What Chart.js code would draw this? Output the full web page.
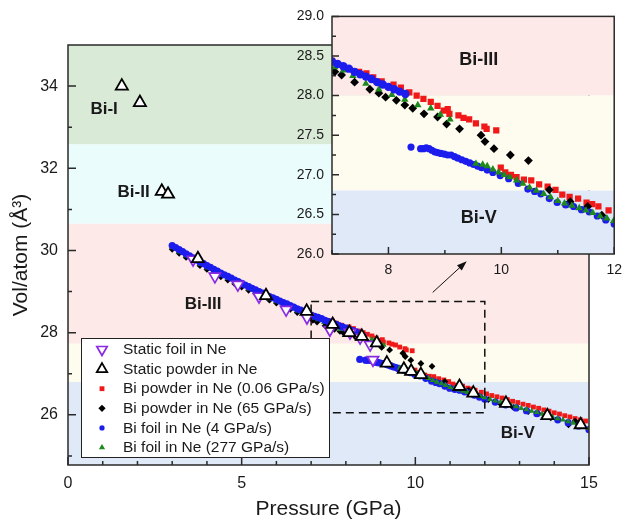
<!DOCTYPE html>
<html>
<head>
<meta charset="utf-8">
<script src="https://cdn.jsdelivr.net/npm/chart.js@4.4.1/dist/chart.umd.min.js"></script>
<style>
  html, body { margin: 0; padding: 0; background: #fff; }
  #wrap { position: relative; width: 630px; height: 522px; }
  #wrap canvas { position: absolute; left: 0; top: 0; }
</style>
</head>
<body>
<div id="wrap">
  <canvas id="mainChart" width="630" height="522"></canvas>
  <canvas id="insetChart" width="630" height="522"></canvas>
</div>
<script>
// ---- data (pressure in GPa, volume per atom in A^3) ----
const staticFoilP = [3.60, 4.23, 4.89, 5.50, 6.28, 6.88, 7.54, 8.12, 8.41, 8.70, 8.78];
const staticFoilV = [29.78, 29.37, 29.17, 28.88, 28.56, 28.37, 28.07, 28.00, 27.88, 27.71, 27.34];

const staticPowderP = [1.55, 2.07, 2.70, 2.88, 3.74, 5.70, 6.87, 7.62, 8.10, 8.46, 8.89, 9.18, 9.67, 9.88, 10.16, 11.27, 11.67, 12.61, 13.80, 14.76];
const staticPowderV = [34.00, 33.60, 31.44, 31.37, 29.80, 28.90, 28.52, 28.20, 28.00, 27.91, 27.75, 27.26, 27.11, 27.06, 26.98, 26.69, 26.53, 26.28, 25.98, 25.76];

const powderSlowP = [3.0, 3.2, 3.4, 3.6, 3.8, 4.0, 4.2, 4.4, 4.6, 4.8, 5.0, 5.2, 5.4, 5.6, 5.8, 6.0, 6.2, 6.4, 6.6, 6.8, 7.0,
  7.25, 7.48, 7.61, 7.73, 7.88, 8.09, 8.22, 8.37, 8.50, 8.62, 8.75, 8.87, 8.98, 9.05, 9.08, 9.24, 9.33, 9.43, 9.55, 9.70, 9.74, 9.91,
  9.99, 10.07, 10.17, 10.27, 10.40, 10.53, 10.67, 10.82, 10.96, 11.08, 11.21, 11.36, 11.51, 11.61, 11.72, 11.90,
  12.05, 12.2, 12.35, 12.5, 12.65, 12.8, 12.95, 13.1, 13.25, 13.4, 13.55, 13.7, 13.85, 14.0, 14.15, 14.3, 14.45, 14.6, 14.75, 14.9];
const powderSlowV = [30.10, 30.00, 29.90, 29.79, 29.69, 29.60, 29.51, 29.42, 29.34, 29.26, 29.18, 29.10, 29.02, 28.95, 28.87, 28.80, 28.72, 28.65, 28.58, 28.51, 28.44,
  28.34, 28.30, 28.28, 28.23, 28.18, 28.14, 28.10, 28.04, 28.00, 27.96, 27.92, 27.87, 27.81, 27.83, 27.77, 27.75, 27.72, 27.70, 27.65, 27.61, 27.58, 27.56,
  27.09, 27.03, 27.00, 26.97, 26.94, 26.93, 26.88, 26.85, 26.81, 26.75, 26.72, 26.70, 26.65, 26.63, 26.60, 26.55,
  26.51, 26.47, 26.44, 26.41, 26.37, 26.33, 26.30, 26.26, 26.23, 26.19, 26.16, 26.12, 26.09, 26.05, 26.02, 25.98, 25.95, 25.91, 25.88, 25.85];

const powderFastP = [3.0, 3.2, 3.4, 3.6, 3.8, 4.0, 4.2, 4.4, 4.6, 4.8, 5.0, 5.2, 5.4, 5.6, 5.8, 6.0, 6.2, 6.4, 6.6, 6.8,
  7.05, 7.17, 7.40, 7.67, 7.83, 7.95, 8.14, 8.29, 8.43, 8.63, 8.87, 9.03, 9.26, 9.64, 9.71, 9.87, 10.16, 10.48,
  10.85, 11.22, 11.53, 11.78, 12.10, 12.45, 12.82, 13.25, 13.54, 13.90, 14.41, 14.60];
const powderFastV = [30.03, 29.93, 29.83, 29.73, 29.63, 29.54, 29.45, 29.36, 29.28, 29.19, 29.11, 29.03, 28.95, 28.87, 28.79, 28.72, 28.64, 28.57, 28.49, 28.42,
  28.30, 28.26, 28.17, 28.08, 28.03, 27.98, 27.94, 27.88, 27.84, 27.77, 27.73, 27.64, 27.58, 27.50, 27.42, 27.33, 27.25, 27.18,
  26.81, 26.66, 26.60, 26.49, 26.37, 26.27, 26.18, 26.08, 26.03, 25.93, 25.76, 25.85];

// 4 GPa/s foil: Bi-III branch and Bi-V branch
const foilSlowP3 = [3.0, 3.1, 3.2, 3.3, 3.4, 3.5, 3.6, 3.7, 3.8, 3.9, 4.0, 4.1, 4.2, 4.3, 4.4, 4.5, 4.6, 4.7, 4.8, 4.9,
  5.0, 5.1, 5.2, 5.3, 5.4, 5.5, 5.6, 5.7, 5.8, 5.9, 6.0, 6.1, 6.2, 6.3, 6.4, 6.5, 6.6, 6.7, 6.8, 6.9,
  7.0, 7.1, 7.2, 7.3, 7.4, 7.5, 7.6, 7.7, 7.8, 7.9, 8.0, 8.1, 8.2, 8.3];
const foilSlowV3 = [30.12, 30.07, 30.02, 29.97, 29.92, 29.87, 29.82, 29.77, 29.72, 29.68, 29.63, 29.59, 29.54, 29.50, 29.45, 29.41, 29.37, 29.33, 29.28, 29.24,
  29.20, 29.16, 29.12, 29.08, 29.04, 29.00, 28.96, 28.92, 28.88, 28.85, 28.81, 28.77, 28.73, 28.70, 28.66, 28.62, 28.58, 28.55, 28.51, 28.47,
  28.43, 28.40, 28.37, 28.34, 28.30, 28.27, 28.24, 28.21, 28.17, 28.14, 28.11, 28.08, 28.05, 28.02];
const foilSlowP5 = [8.40, 8.57, 8.62, 8.67, 8.72, 8.77, 8.82, 8.87, 8.93, 8.99, 9.05, 9.11, 9.17, 9.23, 9.30, 9.37, 9.44, 9.51, 9.58, 9.65,
  9.75, 9.85, 9.98, 10.13, 10.30, 10.47, 10.59, 10.70, 10.85, 10.99, 11.14, 11.28, 11.42, 11.56, 11.70, 11.85,
  12.0, 12.3, 12.6, 12.9, 13.2, 13.5, 13.8, 14.1, 14.4, 14.7, 15.0];
const foilSlowV5 = [27.35, 27.33, 27.33, 27.34, 27.33, 27.31, 27.29, 27.28, 27.27, 27.26, 27.25, 27.25, 27.23, 27.21, 27.19, 27.17, 27.15, 27.13, 27.11, 27.09,
  27.06, 27.03, 26.99, 26.95, 26.89, 26.82, 26.79, 26.76, 26.70, 26.65, 26.62, 26.60, 26.56, 26.53, 26.48, 26.43,
  26.38, 26.31, 26.24, 26.17, 26.10, 26.03, 25.96, 25.88, 25.81, 25.73, 25.64];

const foilFastP = [3.0, 3.2, 3.4, 3.6, 3.8, 4.0, 4.2, 4.4, 4.6, 4.8, 5.0, 5.2, 5.4, 5.6, 5.8, 6.0, 6.2, 6.4, 6.6, 6.8,
  6.95, 7.05, 7.2, 7.37, 7.6, 7.83, 8.06, 8.29, 8.52, 8.75, 8.92, 9.09,
  9.55, 9.67, 9.75, 9.85, 9.95, 10.05, 10.15, 10.27, 10.38, 10.5, 10.62, 10.75, 10.87, 11.0, 11.12, 11.25, 11.38, 11.5, 11.62, 11.75, 11.87, 11.99,
  12.15, 12.3, 12.45, 12.6, 12.75, 12.9, 13.05, 13.2, 13.35, 13.5, 13.65, 13.8, 13.95, 14.1, 14.25, 14.4, 14.55, 14.7, 14.85, 15.0];
const foilFastV = [30.07, 29.97, 29.87, 29.77, 29.67, 29.58, 29.49, 29.40, 29.32, 29.23, 29.15, 29.07, 28.99, 28.91, 28.83, 28.76, 28.68, 28.61, 28.53, 28.46,
  28.40, 28.36, 28.32, 28.25, 28.15, 28.08, 28.01, 27.95, 27.88, 27.84, 27.76, 27.70,
  27.14, 27.13, 27.11, 27.07, 27.03, 27.00, 26.97, 26.93, 26.89, 26.84, 26.80, 26.76, 26.72, 26.67, 26.64, 26.61, 26.58, 26.55, 26.52, 26.48, 26.45, 26.42,
  26.38, 26.34, 26.31, 26.27, 26.23, 26.20, 26.16, 26.13, 26.09, 26.06, 26.02, 25.99, 25.95, 25.91, 25.88, 25.84, 25.80, 25.76, 25.71, 25.67];

// tick labels
const mainXTicks = [0, 5, 10, 15];
const mainYTicks = [26, 28, 30, 32, 34];
const insetXTicks = [8, 10, 12];
const insetYTicks = [26.0, 26.5, 27.0, 27.5, 28.0, 28.5, 29.0];

// phase boundaries (volume)
const mainBands = [
  { from: 32.58, to: 35, color: '#d9ead6' },
  { from: 30.65, to: 32.58, color: '#ebfcfc' },
  { from: 27.73, to: 30.65, color: '#fde9e8' },
  { from: 26.8, to: 27.73, color: '#fdfcef' },
  { from: 24.0, to: 26.8, color: '#e0e9f8' }
];
const insetBands = [
  { from: 28.0, to: 29.0, color: '#fde9e8' },
  { from: 26.8, to: 28.0, color: '#fdfcef' },
  { from: 26.0, to: 26.8, color: '#e0e9f8' }
];

const FONT = '"Liberation Sans", Arial, Helvetica, sans-serif';
const TEXT = '#1a1a1a';

const pts = (xs, ys) => xs.map((x, i) => ({ x: x, y: ys[i] }));

function series(label, xs, ys, st) {
  return {
    label: label,
    data: pts(xs, ys),
    showLine: false,
    clip: 0,
    pointStyle: st.style,
    pointRotation: st.rotation || 0,
    pointRadius: st.radius,
    pointBorderWidth: st.bw || 0,
    pointBorderColor: st.border || st.fill,
    pointBackgroundColor: st.fill,
    backgroundColor: st.fill,
    borderColor: st.border || st.fill
  };
}

function fillBands(chart, bands) {
  const { ctx, chartArea: a, scales: { y } } = chart;
  ctx.save();
  bands.forEach(b => {
    const top = Math.max(y.getPixelForValue(b.to), a.top);
    const bot = Math.min(y.getPixelForValue(b.from), a.bottom);
    ctx.fillStyle = b.color;
    ctx.fillRect(a.left, top, a.width, bot - top);
  });
  ctx.restore();
}

function drawFrame(chart, xMinor, yMinor, xMajor, yMajor, majLen, minLen) {
  const { ctx, chartArea: a, scales: { x, y } } = chart;
  ctx.save();
  ctx.strokeStyle = '#2a2a2a';
  ctx.lineWidth = 1.5;
  ctx.strokeRect(a.left, a.top, a.width, a.height);
  ctx.beginPath();
  xMinor.forEach(v => {
    const px = x.getPixelForValue(v);
    const len = xMajor.includes(v) ? majLen : minLen;
    ctx.moveTo(px, a.bottom);
    ctx.lineTo(px, a.bottom - len);
  });
  yMinor.forEach(v => {
    const py = y.getPixelForValue(v);
    const len = yMajor.some(m => Math.abs(m - v) < 1e-6) ? majLen : minLen;
    ctx.moveTo(a.left, py);
    ctx.lineTo(a.left + len, py);
  });
  ctx.stroke();
  ctx.restore();
}

function phaseText(chart, list, size) {
  const { ctx, scales: { x, y } } = chart;
  ctx.save();
  ctx.fillStyle = TEXT;
  ctx.font = 'bold ' + size + 'px ' + FONT;
  ctx.textAlign = 'center';
  ctx.textBaseline = 'middle';
  list.forEach(l => ctx.fillText(l.text, x.getPixelForValue(l.x), y.getPixelForValue(l.y)));
  ctx.restore();
}

const mainPhases = [
  { text: 'Bi-I', x: 1.04, y: 33.43 },
  { text: 'Bi-II', x: 1.89, y: 31.41 },
  { text: 'Bi-III', x: 3.89, y: 28.68 },
  { text: 'Bi-V', x: 12.95, y: 25.56 }
];
const insetPhases = [
  { text: 'Bi-III', x: 9.6, y: 28.45 },
  { text: 'Bi-V', x: 9.6, y: 26.45 }
];

// marker styles
const stFoilStatic = { style: 'triangle', rotation: 180, radius: 6.5, bw: 1.7, fill: '#ffffff', border: '#8a2be2' };
const stPowderStatic = { style: 'triangle', radius: 7, bw: 1.8, fill: '#ffffff', border: '#000000' };
const stSlowPowder = { style: 'rect', radius: 3.4, fill: '#f01818' };
const stFastPowder = { style: 'rectRot', radius: 3.4, fill: '#000000' };
const stSlowFoil = { style: 'circle', radius: 3.6, fill: '#1c1ced' };
const stFastFoil = { style: 'triangle', radius: 3.4, fill: '#1d8a1d' };

const legendItems = [
  ['Static foil in Ne', stFoilStatic, 6],
  ['Static powder in Ne', stPowderStatic, 6],
  ['Bi powder in Ne (0.06 GPa/s)', stSlowPowder, 3.4],
  ['Bi powder in Ne (65 GPa/s)', stFastPowder, 3.6],
  ['Bi foil in Ne (4 GPa/s)', stSlowFoil, 2.6],
  ['Bi foil in Ne (277 GPa/s)', stFastFoil, 3.6]
];

const range = (a, b, s) => { const r = []; for (let v = a; v <= b + 1e-9; v += s) r.push(Math.round(v * 100) / 100); return r; };

const mainDecor = {
  id: 'mainDecor',
  beforeDatasetsDraw(chart) { fillBands(chart, mainBands); },
  afterDatasetsDraw(chart) {
    const { ctx, scales: { x, y } } = chart;
    ctx.save();
    // zoom box
    ctx.strokeStyle = '#111';
    ctx.lineWidth = 1.5;
    ctx.setLineDash([8, 5]);
    const bx1 = x.getPixelForValue(7), bx2 = x.getPixelForValue(12);
    const by1 = y.getPixelForValue(28.76), by2 = y.getPixelForValue(26.05);
    ctx.strokeRect(bx1, by1, bx2 - bx1, by2 - by1);
    ctx.setLineDash([]);
    // arrow to inset
    const ax1 = x.getPixelForValue(10.5), ay1 = y.getPixelForValue(28.98);
    const ax2 = x.getPixelForValue(11.48), ay2 = y.getPixelForValue(29.74);
    const ang = Math.atan2(ay2 - ay1, ax2 - ax1);
    ctx.lineWidth = 1;
    ctx.beginPath();
    ctx.moveTo(ax1, ay1);
    ctx.lineTo(ax2 - 6 * Math.cos(ang), ay2 - 6 * Math.sin(ang));
    ctx.stroke();
    ctx.fillStyle = '#111';
    ctx.beginPath();
    ctx.moveTo(ax2, ay2);
    ctx.lineTo(ax2 - 10 * Math.cos(ang) + 3.5 * Math.sin(ang), ay2 - 10 * Math.sin(ang) - 3.5 * Math.cos(ang));
    ctx.lineTo(ax2 - 10 * Math.cos(ang) - 3.5 * Math.sin(ang), ay2 - 10 * Math.sin(ang) + 3.5 * Math.cos(ang));
    ctx.closePath();
    ctx.fill();
    ctx.restore();

    phaseText(chart, mainPhases, 17);

    // legend
    ctx.save();
    const lx = 81, ly = 338, lw = 248, lh = 119;
    ctx.fillStyle = '#fff';
    ctx.fillRect(lx, ly, lw, lh);
    ctx.strokeStyle = '#222';
    ctx.lineWidth = 1;
    ctx.strokeRect(lx + 0.5, ly + 0.5, lw, lh);
    ctx.font = '15.5px ' + FONT;
    ctx.textBaseline = 'middle';
    ctx.textAlign = 'left';
    legendItems.forEach((it, i) => {
      const cy = ly + 11.5 + i * 19.6;
      const st = it[1];
      ctx.fillStyle = st.fill;
      ctx.strokeStyle = st.border || st.fill;
      ctx.lineWidth = st.bw || 0;
      Chart.helpers.drawPoint(ctx, { pointStyle: st.style, rotation: st.rotation || 0, radius: it[2], borderWidth: st.bw || 0 }, 102, cy);
      ctx.fillStyle = TEXT;
      ctx.fillText(it[0], 123, cy + 0.5);
    });
    ctx.restore();

    drawFrame(chart, range(0, 15, 1), range(25, 34, 1), mainXTicks, mainYTicks, 8, 4);
  }
};

const insetDecor = {
  id: 'insetDecor',
  beforeDatasetsDraw(chart) { fillBands(chart, insetBands); },
  afterDatasetsDraw(chart) {
    phaseText(chart, insetPhases, 18);
    drawFrame(chart, range(7, 12, 1), range(26, 29, 0.25), insetXTicks, insetYTicks, 7, 4);
  }
};

function axis(min, max, ticks, fmt, size, pad, fit) {
  return {
    type: 'linear', min: min, max: max,
    grid: { display: false, drawTicks: false },
    border: { display: false },
    afterBuildTicks: s => { s.ticks = ticks.map(v => ({ value: v })); },
    afterFit: fit,
    ticks: { autoSkip: false, maxRotation: 0, padding: pad, color: TEXT, font: { family: FONT, size: size }, callback: fmt }
  };
}

// main chart
const mainX = axis(0, 15, mainXTicks, v => v, 16, 9, s => { s.height = 57; });
mainX.title = { display: true, text: 'Pressure (GPa)', color: TEXT, font: { family: FONT, size: 21 }, padding: { top: 0, bottom: 0 } };
const mainY = axis(24.78, 35, mainYTicks, v => v, 16, 10, s => { s.width = 68; });
mainY.title = { display: true, text: 'Vol/atom (Å³)', color: TEXT, font: { family: FONT, size: 21 }, padding: { top: 9, bottom: 0 } };

// datasets listed first are drawn on top
new Chart(document.getElementById('mainChart'), {
  type: 'scatter',
  data: {
    datasets: [
      series('Static powder in Ne', staticPowderP, staticPowderV, stPowderStatic),
      series('Static foil in Ne', staticFoilP, staticFoilV, stFoilStatic),
      series('Bi foil in Ne (4 GPa/s)', foilSlowP3, foilSlowV3, stSlowFoil),
      series('Bi foil in Ne (277 GPa/s)', foilFastP, foilFastV, stFastFoil),
      series('Bi foil in Ne (4 GPa/s)', foilSlowP5, foilSlowV5, stSlowFoil),
      series('Bi powder in Ne (65 GPa/s)', powderFastP, powderFastV, stFastPowder),
      series('Bi powder in Ne (0.06 GPa/s)', powderSlowP, powderSlowV, stSlowPowder)
    ]
  },
  options: {
    responsive: false,
    animation: false,
    events: [],
    layout: { padding: { top: 45, right: 41, left: 0, bottom: 0 } },
    plugins: { legend: { display: false }, tooltip: { enabled: false } },
    scales: { x: mainX, y: mainY }
  },
  plugins: [mainDecor]
});

// inset chart (transparent overlay)
const big = (st, r) => Object.assign({}, st, { radius: r });
new Chart(document.getElementById('insetChart'), {
  type: 'scatter',
  data: {
    datasets: [
      series('Bi foil in Ne (4 GPa/s)', foilSlowP3, foilSlowV3, big(stSlowFoil, 4.2)),
      series('Bi foil in Ne (277 GPa/s)', foilFastP, foilFastV, big(stFastFoil, 4.3)),
      series('Bi foil in Ne (4 GPa/s)', foilSlowP5, foilSlowV5, big(stSlowFoil, 3.6)),
      series('Bi powder in Ne (65 GPa/s)', powderFastP, powderFastV, big(stFastPowder, 4.4)),
      series('Bi powder in Ne (0.06 GPa/s)', powderSlowP, powderSlowV, big(stSlowPowder, 4.4))
    ]
  },
  options: {
    responsive: false,
    animation: false,
    events: [],
    layout: { padding: { top: 14, right: 8, left: 0, bottom: 0 } },
    plugins: { legend: { display: false }, tooltip: { enabled: false } },
    scales: {
      x: axis(7, 12, insetXTicks, v => v, 14, 8, s => { s.height = 268; }),
      y: axis(26, 29, insetYTicks, v => v.toFixed(1), 14, 8, s => { s.width = 332; })
    }
  },
  plugins: [insetDecor]
});
</script>
</body>
</html>
